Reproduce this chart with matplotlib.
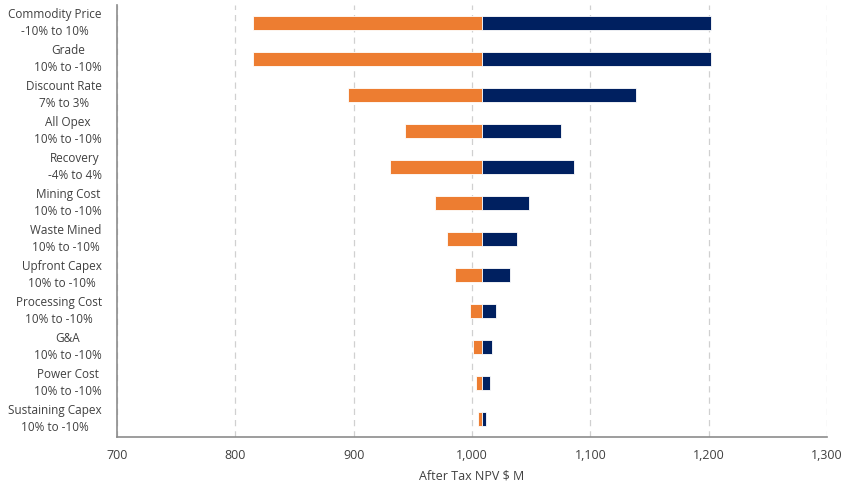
import matplotlib.pyplot as plt
import numpy as np
from matplotlib.ticker import FuncFormatter

plt.rcParams["font.family"] = ["Open Sans", "DejaVu Sans"]

# sensitivity of after-tax NPV (US$ M) to each input
BASE_NPV = 1008.5

drivers = [
    "Commodity Price\n-10% to 10%",
    "Grade\n10% to -10%",
    "Discount Rate\n7% to 3%",
    "All Opex\n10% to -10%",
    "Recovery\n-4% to 4%",
    "Mining Cost\n10% to -10%",
    "Waste Mined\n10% to -10%",
    "Upfront Capex\n10% to -10%",
    "Processing Cost\n10% to -10%",
    "G&A\n10% to -10%",
    "Power Cost\n10% to -10%",
    "Sustaining Capex\n10% to -10%",
]
npv_low = [815, 815, 895, 943, 931, 969, 979, 986, 998, 1000.5, 1003.5, 1005]
npv_high = [1202, 1202, 1139, 1075, 1086, 1048, 1038, 1032, 1020, 1017, 1015, 1012]

ORANGE = "#ED7D31"
NAVY = "#002060"
TEXT = "#404040"

fig = plt.figure(figsize=(8.5, 4.87), dpi=100)
ax = fig.add_axes([0.1376, 0.1027, 0.8353, 0.8873])

y = np.arange(len(drivers))
low = np.array(npv_low)
high = np.array(npv_high)
bar_h = 0.38

ax.barh(y, BASE_NPV - low, left=low, height=bar_h, color=ORANGE,
        edgecolor="white", linewidth=0.6, zorder=3)
ax.barh(y, high - BASE_NPV, left=BASE_NPV, height=bar_h, color=NAVY,
        edgecolor="white", linewidth=0.6, zorder=3)

ax.set_xlim(700, 1300)
ax.set_ylim(len(drivers) - 0.5, -0.5)
ax.set_xticks(np.arange(700, 1301, 100))
ax.xaxis.set_major_formatter(FuncFormatter(lambda v, _: f"{v:,.0f}"))
ax.set_yticks(y)
ax.set_yticklabels(drivers, multialignment="center", linespacing=1.4,
                   fontsize=8.5)
for lbl in ax.get_yticklabels():
    lbl.set_verticalalignment("center")

ax.tick_params(axis="both", length=0, colors=TEXT)
ax.tick_params(axis="x", labelsize=9, pad=9)
ax.tick_params(axis="y", pad=11)

ax.grid(axis="x", color="#D0D0D0", linestyle=(0, (5, 4)), linewidth=0.9, zorder=0)
for side in ("top", "right"):
    ax.spines[side].set_visible(False)
for side in ("left", "bottom"):
    ax.spines[side].set_color("#8C8C8C")
    ax.spines[side].set_linewidth(1.2)

ax.set_xlabel("After Tax NPV $ M", color=TEXT, fontsize=9, labelpad=5)

fig.savefig("out.png", dpi=100)
